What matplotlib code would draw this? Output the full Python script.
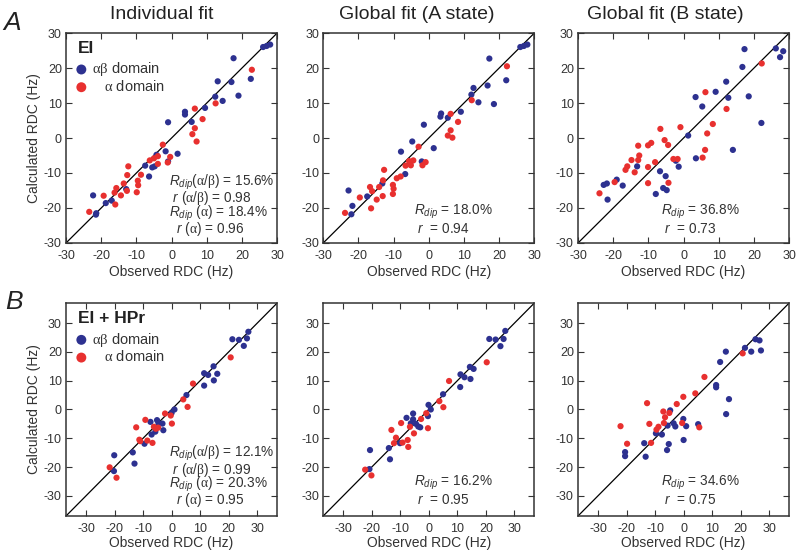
import numpy as np
import matplotlib
matplotlib.use('Agg')
import matplotlib.pyplot as plt

plt.rcParams['font.family'] = ['Liberation Sans', 'DejaVu Sans']
plt.rcParams['mathtext.fontset'] = 'custom'
plt.rcParams['mathtext.rm'] = 'Liberation Sans'
plt.rcParams['mathtext.it'] = 'Liberation Sans:italic'
plt.rcParams['mathtext.cal'] = 'Liberation Serif'
plt.rcParams['axes.unicode_minus'] = False

BLUE = '#2d3190'
RED = '#e8302f'

titles = ['Individual fit', 'Global fit (A state)', 'Global fit (B state)']
row_names = ['EI', 'EI + HPr']

# ---- row A (EI) ----
a1_blue_x = [17.6, 22.5, 13.1, 17.0, 12.4, 14.5, 19.0, 9.5, 3.8, 3.8, 5.7, -1.0, -1.7, 1.7, -1.0, -4.3, -5.5, -4.8, -7.5, -6.4, -12.9, -22.3, -18.7, -17.0, -21.4, -21.5, 26.0, 27.0, 28.0]
a1_blue_y = [22.8, 16.9, 16.2, 16.0, 11.8, 10.6, 12.1, 8.6, 7.5, 6.7, 4.6, 4.5, -3.8, -4.5, -6.7, -4.8, -8.4, -8.1, -7.9, -11.0, -14.6, -16.4, -18.6, -17.9, -21.5, -21.9, 26.0, 26.3, 26.7]
a1_red_x = [22.8, 12.5, 6.6, 8.8, 6.6, 5.9, 7.1, -2.5, -0.4, -1.1, -6.2, -5.0, -3.9, -3.9, -12.3, -12.6, -8.7, -9.6, -9.5, -13.6, -12.7, -9.9, -14.4, -15.7, -16.2, -16.0, -19.3, -23.4]
a1_red_y = [19.5, 9.9, 8.4, 5.4, 2.8, 1.1, -1.0, -1.9, -5.4, -7.0, -6.4, -5.8, -5.2, -7.4, -8.1, -10.6, -10.5, -12.2, -13.5, -13.0, -15.1, -15.5, -16.4, -14.3, -15.6, -19.0, -16.5, -21.1]

a2_blue_x = [17.2, 22.0, 12.7, 16.7, 12.1, 14.1, 18.5, 9.1, 3.5, 3.3, 5.4, -1.4, -4.7, 1.4, -7.9, -2.0, -5.3, -6.7, -13.2, -22.8, -17.5, -21.7, -22.0, 26.0, 27.0, 28.0]
a2_blue_y = [22.7, 16.5, 14.3, 15.0, 12.4, 10.2, 9.7, 7.5, 7.0, 6.1, 5.8, 3.8, -1.0, -2.9, -3.9, -6.7, -7.3, -10.3, -13.0, -15.0, -16.7, -19.4, -21.8, 26.0, 26.3, 26.7]
a2_red_x = [22.2, 12.2, 6.2, 8.3, 6.2, 5.4, 6.7, -2.9, -0.9, -1.8, -4.4, -5.6, -5.1, -6.6, -8.0, -9.1, -12.7, -13.0, -13.1, -10.2, -10.0, -10.2, -14.1, -14.8, -16.7, -16.1, -16.4, -19.6, -23.8]
a2_red_y = [20.5, 10.8, 6.9, 4.6, 2.2, 0.7, 0.1, -2.5, -6.9, -7.8, -6.4, -6.6, -7.8, -7.9, -11.0, -11.5, -9.1, -12.1, -16.6, -13.4, -14.5, -16.0, -14.0, -17.6, -14.0, -15.2, -20.1, -17.0, -21.4]

a3_blue_x = [17.3, 26.2, 27.4, 28.3, 16.7, 12.1, 9.1, 3.4, 12.7, 18.5, 5.3, 22.1, 1.3, 14.0, 3.5, -2.2, -1.4, -13.2, -6.7, -5.1, -5.8, -4.8, -7.9, -17.3, -19.0, -22.7, -21.8, -21.6]
a3_blue_y = [25.4, 25.6, 23.1, 24.8, 20.3, 16.1, 13.2, 11.7, 11.5, 11.9, 9.0, 4.3, 0.7, -3.4, -5.8, -6.5, -8.2, -8.1, -9.5, -10.9, -14.3, -14.9, -16.0, -13.6, -11.9, -13.4, -13.0, -17.6]
a3_red_x = [22.2, 6.2, 12.2, 8.3, 6.7, 6.1, 5.4, -0.9, -6.6, -5.4, -4.4, -4.3, -2.9, -1.7, -8.1, -10.1, -9.2, -10.1, -10.1, -12.9, -12.6, -12.9, -14.8, -16.0, -16.5, -13.9, -19.6, -23.9]
a3_red_y = [21.3, 13.1, 8.3, 4.0, 1.3, -3.4, -5.6, 3.1, 2.6, -0.6, -2.0, -12.8, -6.0, -6.0, -6.9, -2.1, -1.4, -8.3, -12.9, -2.2, -5.0, -6.3, -6.3, -8.1, -9.1, -9.8, -12.6, -15.8]

# ---- row B (EI + HPr) ----
b1_blue_x = [26.9, 21.3, 23.6, 26.4, 25.3, 14.7, 11.4, 12.8, 16.0, 14.8, 11.4, 5.2, 1.0, 0.0, -5.1, -7.4, -3.2, -4.6, -5.7, -2.9, -7.0, -9.5, -20.1, -13.6, -13.0, -20.2]
b1_blue_y = [27.0, 24.4, 24.2, 24.7, 22.1, 15.0, 12.6, 12.0, 12.4, 10.1, 8.3, 5.0, 0.0, -1.2, -3.7, -4.3, -4.9, -4.7, -7.7, -7.2, -8.7, -11.9, -15.9, -14.9, -18.8, -21.4]
b1_red_x = [20.7, 7.5, 4.1, 5.6, -2.3, -0.3, 0.1, -9.2, -12.4, -6.2, -4.7, -5.5, -6.7, -11.3, -11.0, -8.5, -21.7, -19.3]
b1_red_y = [18.1, 9.0, 3.5, 0.9, -1.4, -2.1, -4.9, -3.6, -6.2, -6.0, -6.3, -6.7, -11.6, -10.5, -11.0, -10.8, -20.1, -23.7]

b2_blue_x = [26.8, 21.2, 23.4, 26.2, 25.1, 14.4, 15.7, 11.1, 12.5, 14.6, 11.0, 5.0, -0.1, 0.7, -0.3, -5.5, -5.5, -7.8, -6.3, -4.5, -3.7, -3.0, -10.1, -14.0, -13.6, -20.6, -20.8]
b2_blue_y = [27.3, 24.5, 24.3, 24.5, 22.0, 14.8, 14.1, 12.2, 11.2, 10.6, 7.8, 5.3, 1.6, 0.0, -2.3, -1.4, -3.4, -2.9, -4.8, -5.0, -5.9, -6.2, -11.7, -13.4, -17.3, -14.1, -20.7]
b2_red_x = [20.3, 7.1, 3.7, 5.1, -0.9, -0.3, -2.7, -9.7, -6.6, -5.2, -13.1, -11.5, -12.2, -9.2, -7.4, -7.2, -22.3, -20.1]
b2_red_y = [16.4, 9.9, 2.9, 0.8, -1.3, -6.5, -3.3, -4.7, -6.0, -8.3, -7.1, -9.8, -11.7, -11.5, -10.6, -13.0, -20.9, -22.9]

b3_blue_x = [25.2, 26.6, 21.5, 23.7, 27.1, 14.8, 12.8, 11.4, 11.4, 15.9, 14.9, -4.7, -0.1, -3.5, -2.9, 0.9, 5.1, -5.6, -7.6, -9.7, -5.2, 0.0, -5.8, -13.8, -13.3, -20.5, -20.5]
b3_blue_y = [24.4, 24.0, 21.4, 20.1, 20.5, 20.1, 16.5, 8.5, 7.7, 3.6, -1.6, -0.3, -3.3, -4.8, -5.9, -5.8, -5.1, -5.6, -8.7, -8.3, -12.0, -10.6, -14.1, -11.7, -16.4, -14.8, -16.2]
b3_red_x = [20.7, 7.3, 4.1, -0.1, -2.4, -5.0, -12.8, -7.1, -6.5, -6.9, -12.0, -8.8, -9.5, -0.5, 5.5, -11.4, -19.8, -22.1]
b3_red_y = [19.5, 11.3, 5.6, 4.4, 1.9, -1.2, 2.2, -0.7, -2.7, -4.7, -5.0, -6.0, -7.0, -4.7, -6.2, -11.6, -11.9, -5.8]

stats_individual = [
    [r'$R_{dip}$($\mathcal{\alpha}$/$\mathcal{\beta}$) = 15.6%', r' $r$ ($\mathcal{\alpha}$/$\mathcal{\beta}$) = 0.98',
     r'$R_{dip}$ ($\mathcal{\alpha}$) = 18.4%', r'  $r$ ($\mathcal{\alpha}$) = 0.96'],
    [r'$R_{dip}$($\mathcal{\alpha}$/$\mathcal{\beta}$) = 12.1%', r' $r$ ($\mathcal{\alpha}$/$\mathcal{\beta}$) = 0.99',
     r'$R_{dip}$ ($\mathcal{\alpha}$) = 20.3%', r'  $r$ ($\mathcal{\alpha}$) = 0.95'],
]
stats_global = [
    [(r'$R_{dip}$ = 18.0%', r' $r$  = 0.94'), (r'$R_{dip}$ = 36.8%', r' $r$  = 0.73')],
    [(r'$R_{dip}$ = 16.2%', r' $r$  = 0.95'), (r'$R_{dip}$ = 34.6%', r' $r$  = 0.75')],
]

data = [
    [(a1_blue_x, a1_blue_y, a1_red_x, a1_red_y),
     (a2_blue_x, a2_blue_y, a2_red_x, a2_red_y),
     (a3_blue_x, a3_blue_y, a3_red_x, a3_red_y)],
    [(b1_blue_x, b1_blue_y, b1_red_x, b1_red_y),
     (b2_blue_x, b2_blue_y, b2_red_x, b2_red_y),
     (b3_blue_x, b3_blue_y, b3_red_x, b3_red_y)],
]

fig = plt.figure(figsize=(8, 5.54), dpi=100)

lefts = [0.0825, 0.404, 0.7225]
bottoms = [0.5614, 0.0686]
heights = [0.379, 0.3845]
width = 0.264
lims = [30, 37]
title_x = [0.455, 0.445, 0.415]
text_x = [0.43, 0.395]
GREY = '#333333'

for r in range(2):
    for c in range(3):
        ax = fig.add_axes([lefts[c], bottoms[r], width, heights[r]])
        bx, by, rx, ry = data[r][c]
        lim = lims[r]
        ax.plot([-lim, lim], [-lim, lim], color='k', lw=0.9, zorder=1)
        hb = ax.scatter(bx, by, s=20, color=BLUE, edgecolors='none', zorder=3)
        hr = ax.scatter(rx, ry, s=20, color=RED, edgecolors='none', zorder=3)
        ax.set_xlim(-lim, lim)
        ax.set_ylim(-lim, lim)
        ax.set_xticks([-30, -20, -10, 0, 10, 20, 30])
        ax.set_yticks([-30, -20, -10, 0, 10, 20, 30])
        ax.tick_params(direction='in', top=True, right=True, length=4, width=0.8,
                       labelsize=9, colors=GREY)
        ax.tick_params(axis='x', pad=5)
        ax.tick_params(axis='y', pad=3)
        for sp in ax.spines.values():
            sp.set_color(GREY)
            sp.set_linewidth(1.1)
        ax.set_xlabel('Observed RDC (Hz)', fontsize=10, color=GREY)
        ax.xaxis.set_label_coords(0.5, -0.105 if r == 0 else -0.095)
        if c == 0:
            ax.set_ylabel('Calculated RDC (Hz)', fontsize=10, color=GREY)
            ax.yaxis.set_label_coords(-0.12, 0.5)
            ax.text(0.055, 0.925, row_names[r], transform=ax.transAxes, fontsize=12.5,
                    fontweight='bold', va='center', ha='left', color='#222222')
            leg = ax.legend([hb, hr], [r'$\mathcal{\alpha\beta}$ domain', r'   $\mathcal{\alpha}$ domain'],
                            loc='upper left', bbox_to_anchor=(0.045, 0.87), frameon=False,
                            fontsize=10.5, markerscale=1.6, handlelength=0.8, handletextpad=0.35,
                            labelspacing=0.05, borderpad=0, borderaxespad=0)
            for t in leg.get_texts():
                t.set_color(GREY)
            ys = [0.29, 0.213, 0.143, 0.067] if r == 0 else [0.296, 0.216, 0.150, 0.075]
            for line, yy in zip(stats_individual[r], ys):
                ax.text(0.49, yy, line, transform=ax.transAxes, fontsize=9.8,
                        va='center', ha='left', color=GREY)
        else:
            l1, l2 = stats_global[r][c - 1]
            ys = [0.148, 0.067] if r == 0 else [0.155, 0.075]
            ax.text(text_x[c - 1], ys[0], l1, transform=ax.transAxes, fontsize=9.8,
                    va='center', ha='left', color=GREY)
            ax.text(text_x[c - 1], ys[1], l2, transform=ax.transAxes, fontsize=9.8,
                    va='center', ha='left', color=GREY)
        if r == 0:
            ax.text(title_x[c], 1.09, titles[c], transform=ax.transAxes, fontsize=14,
                    ha='center', va='center', color='#222222')

fig.text(0.004, 0.958, 'A', fontsize=19, style='italic', ha='left', va='center', color='#222222')
fig.text(0.006, 0.455, 'B', fontsize=19, style='italic', ha='left', va='center', color='#222222')

fig.savefig('out.png', dpi=100)
